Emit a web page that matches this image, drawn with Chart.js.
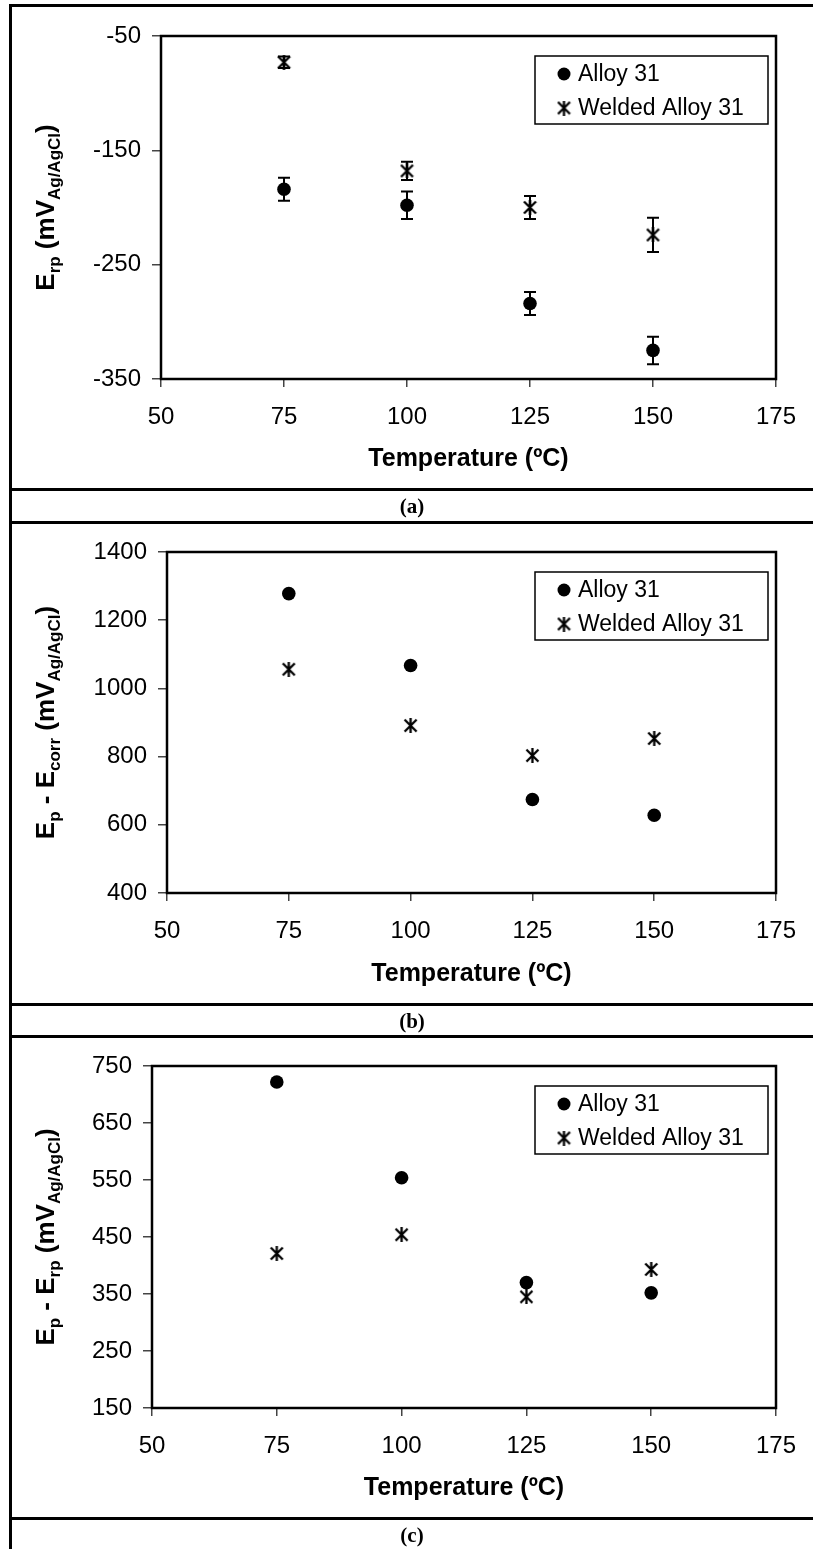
<!DOCTYPE html>
<html>
<head>
<meta charset="utf-8">
<script src="https://cdn.jsdelivr.net/npm/chart.js@4/dist/chart.umd.min.js"></script>
<style>
  html, body { margin: 0; padding: 0; background: #fff; }
  body { width: 813px; height: 1549px; position: relative; overflow: hidden; }
  .hrule { position: absolute; left: 9px; width: 820px; height: 3px; background: #000; }
  .vrule { position: absolute; left: 9px; top: 4px; width: 3px; height: 1560px; background: #000; }
  canvas { position: absolute; left: 0; }
  .cap { position: absolute; left: 12px; width: 800px; text-align: center;
         font: bold 21px "Liberation Serif", "Times New Roman", serif; }
</style>
</head>
<body>
<canvas id="chartA" width="813" height="489" style="top:0"></canvas>
<canvas id="chartB" width="813" height="482" style="top:522px"></canvas>
<canvas id="chartC" width="813" height="482" style="top:1036px"></canvas>

<div class="vrule"></div>
<div class="hrule" style="top:4px"></div>
<div class="hrule" style="top:488px"></div>
<div class="cap" style="top:491px;line-height:30px">(a)</div>
<div class="hrule" style="top:521px"></div>
<div class="hrule" style="top:1003px"></div>
<div class="cap" style="top:1006px;line-height:30px">(b)</div>
<div class="hrule" style="top:1035px"></div>
<div class="hrule" style="top:1517px"></div>
<div class="cap" style="top:1520px;line-height:30px">(c)</div>

<script>
// températures (ºC)
const temperatures = [75, 100, 125, 150];
const xTicks = [50, 75, 100, 125, 150, 175];

// (a) E_rp
const erpAlloy = [-184, -198, -284, -325];
const erpAlloyErr = [10, 12, 10, 12];
const erpWelded = [-73, -168, -200, -224];
const erpWeldedErr = [5, 8, 10, 15];
const erpTicks = [-350, -250, -150, -50];

// (b) E_p - E_corr
const ecorrAlloy = [1278, 1067, 674, 628];
const ecorrWelded = [1056, 891, 803, 853];
const ecorrTicks = [400, 600, 800, 1000, 1200, 1400];

// (c) E_p - E_rp
const epErpAlloy = [722, 554, 370, 352];
const epErpWelded = [421, 454, 345, 393];
const epErpTicks = [150, 250, 350, 450, 550, 650, 750];

const labels = ['Alloy 31', 'Welded Alloy 31'];
const FONT = '"Liberation Sans", Arial, sans-serif';

// marqueur étoile (X + trait vertical) façon Excel
function makeStar(size, lw) {
    const c = document.createElement('canvas');
    c.width = size; c.height = size;
    const g = c.getContext('2d');
    g.strokeStyle = '#000';
    g.lineWidth = lw;
    const m = 1.5;
    g.beginPath();
    g.moveTo(m, m); g.lineTo(size - m, size - m);
    g.moveTo(size - m, m); g.lineTo(m, size - m);
    g.moveTo(size / 2, 0); g.lineTo(size / 2, size);
    g.stroke();
    return c;
}
const star = makeStar(15, 2.3);

function points(values) {
    return temperatures.map((t, i) => ({ x: t, y: values[i] }));
}

// barres d'erreur dessinées à partir des échelles
const errorBars = {
    id: 'errorBars',
    beforeDatasetsDraw(chart) {
        const { ctx, scales: { x, y } } = chart;
        ctx.save();
        ctx.strokeStyle = '#000';
        ctx.lineWidth = 2;
        chart.data.datasets.forEach(ds => {
            if (!ds.errors) return;
            ds.data.forEach((p, i) => {
                const e = ds.errors[i];
                if (!e) return;
                const px = x.getPixelForValue(p.x);
                const top = y.getPixelForValue(p.y + e);
                const bot = y.getPixelForValue(p.y - e);
                ctx.beginPath();
                ctx.moveTo(px, top); ctx.lineTo(px, bot);
                ctx.moveTo(px - 6, top); ctx.lineTo(px + 6, top);
                ctx.moveTo(px - 6, bot); ctx.lineTo(px + 6, bot);
                ctx.stroke();
            });
        });
        ctx.restore();
    }
};

// cadre de la zone de tracé, légende encadrée et titre Y avec indices
const decorations = {
    id: 'decorations',
    afterDraw(chart, args, opts) {
        const { ctx, chartArea: a } = chart;
        ctx.save();
        ctx.strokeStyle = '#000';
        ctx.lineWidth = 2.5;
        ctx.strokeRect(a.left, a.top, a.right - a.left, a.bottom - a.top);

        // légende
        const bx = a.right - 241, by = a.top + 20, bw = 233, bh = 68;
        ctx.lineWidth = 1.5;
        ctx.fillStyle = '#fff';
        ctx.fillRect(bx, by, bw, bh);
        ctx.strokeRect(bx, by, bw, bh);
        ctx.font = '23px ' + FONT;
        ctx.textBaseline = 'middle';
        ctx.fillStyle = '#000';
        chart.data.datasets.forEach((ds, i) => {
            const cy = by + 18 + i * 34;
            const cx = bx + 29;
            if (ds.pointStyle === 'circle') {
                ctx.beginPath();
                ctx.arc(cx, cy, 6.5, 0, Math.PI * 2);
                ctx.fill();
            } else {
                ctx.drawImage(ds.pointStyle, cx - 7.5, cy - 7.5);
            }
            ctx.fillText(ds.label, bx + 43, cy + 1);
        });

        // titre de l'axe Y
        const parts = opts.yTitle;
        const big = 'bold 26px ' + FONT, small = 'bold 17px ' + FONT;
        let total = 0;
        parts.forEach(p => { ctx.font = p[1] ? small : big; total += ctx.measureText(p[0]).width; });
        ctx.translate(54, (a.top + a.bottom) / 2);
        ctx.rotate(-Math.PI / 2);
        ctx.textBaseline = 'alphabetic';
        let x = -total / 2;
        parts.forEach(p => {
            ctx.font = p[1] ? small : big;
            ctx.fillText(p[0], x, p[1] ? 6 : 0);
            x += ctx.measureText(p[0]).width;
        });
        ctx.restore();
    }
};

function makeChart(id, alloy, welded, yTicks, yTitle, alloyErr, weldedErr, box) {
    const ctx = document.getElementById(id).getContext('2d');
    return new Chart(ctx, {
        type: 'scatter',
        data: {
            datasets: [
                {
                    label: labels[0],
                    data: points(alloy),
                    errors: alloyErr,
                    pointStyle: 'circle',
                    pointRadius: 6.8,
                    backgroundColor: '#000',
                    borderWidth: 0
                },
                {
                    label: labels[1],
                    data: points(welded),
                    errors: weldedErr,
                    pointStyle: star,
                    pointRadius: 7,
                    backgroundColor: '#000',
                    borderColor: '#000'
                }
            ]
        },
        options: {
            responsive: false,
            animation: false,
            layout: { autoPadding: false, padding: { left: 0, right: 813 - box.right, top: box.top, bottom: 0 } },
            plugins: {
                legend: { display: false },
                tooltip: { enabled: false },
                decorations: { yTitle: yTitle }
            },
            scales: {
                x: {
                    type: 'linear',
                    min: xTicks[0],
                    max: xTicks[xTicks.length - 1],
                    afterBuildTicks: s => { s.ticks = xTicks.map(v => ({ value: v })); },
                    afterFit: s => { s.height = box.bottomSpace; },
                    grid: { drawOnChartArea: false, tickLength: 8, tickColor: '#444', lineWidth: 1.5 },
                    border: { display: false },
                    ticks: { color: '#000', font: { family: FONT, size: 24 }, padding: 16, callback: v => String(v) },
                    title: { display: true, text: 'Temperature (ºC)', color: '#000',
                             font: { family: FONT, size: 25, weight: 'bold' }, padding: { top: 0, bottom: 15 } }
                },
                y: {
                    type: 'linear',
                    min: yTicks[0],
                    max: yTicks[yTicks.length - 1],
                    afterBuildTicks: s => { s.ticks = yTicks.map(v => ({ value: v })); },
                    afterFit: s => { s.width = box.left; },
                    grid: { drawOnChartArea: false, tickLength: 9, tickColor: '#444', lineWidth: 1.5 },
                    border: { display: false },
                    ticks: { color: '#000', font: { family: FONT, size: 24 }, padding: 11, callback: v => String(v) }
                }
            }
        },
        plugins: [errorBars, decorations]
    });
}

makeChart('chartA', erpAlloy, erpWelded, erpTicks,
    [['E', 0], ['rp', 1], [' (mV', 0], ['Ag/AgCl', 1], [')', 0]],
    erpAlloyErr, erpWeldedErr,
    { left: 161, right: 776, top: 36, bottomSpace: 110 });

makeChart('chartB', ecorrAlloy, ecorrWelded, ecorrTicks,
    [['E', 0], ['p', 1], [' - E', 0], ['corr', 1], [' (mV', 0], ['Ag/AgCl', 1], [')', 0]],
    null, null,
    { left: 167, right: 776, top: 30, bottomSpace: 111 });

makeChart('chartC', epErpAlloy, epErpWelded, epErpTicks,
    [['E', 0], ['p', 1], [' - E', 0], ['rp', 1], [' (mV', 0], ['Ag/AgCl', 1], [')', 0]],
    null, null,
    { left: 152, right: 776, top: 30, bottomSpace: 110 });
</script>
</body>
</html>
